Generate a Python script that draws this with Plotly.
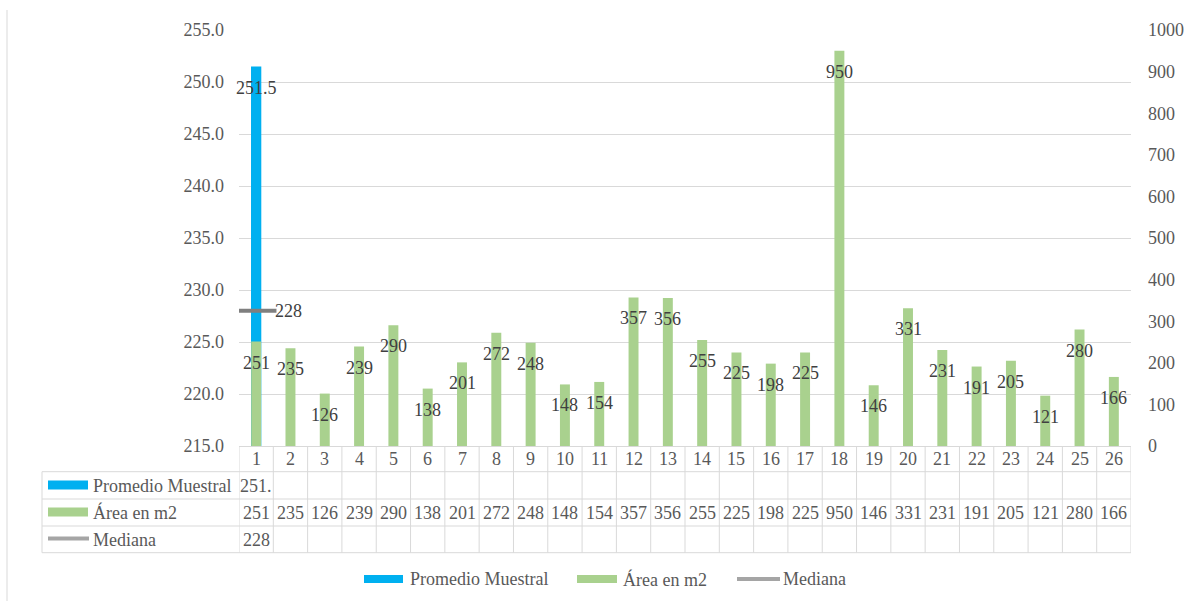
import plotly.graph_objects as go

# ---------------- data ----------------
categories = list(range(1, 27))
area_m2 = [251, 235, 126, 239, 290, 138, 201, 272, 248, 148, 154, 357, 356,
           255, 225, 198, 225, 950, 146, 331, 231, 191, 205, 121, 280, 166]
promedio_cat = [1]
promedio_val = [251.5]
mediana_cat = [1]
mediana_val = [228]
series_names = ["Promedio Muestral", "Área en m2", "Mediana"]

# ---------------- style ----------------
W, H = 1185, 601
L, R, T, B = 239, 1131, 30, 446
FONT = "'Liberation Serif', 'Times New Roman', Times, 'DejaVu Serif', serif"
BLUE = "#00B0F0"
GREEN = "#A9D18E"
GRAY_LINE = "#A5A5A5"
GRAY_MARK = "#7F7F7F"
GRID = "#D9D9D9"
TXT = "#595959"
LBL = "#404040"
FS = 18


def px_x(px):
    return (px - L) / (R - L)


def px_y(py):
    return (B - py) / (B - T)


fig = go.Figure()

fig.add_trace(go.Bar(x=promedio_cat, y=promedio_val, width=0.3, marker_color=BLUE,
                     marker_line_width=0, yaxis="y", showlegend=False, name=series_names[0]))
fig.add_trace(go.Scatter(x=mediana_cat, y=mediana_val, mode="markers", yaxis="y",
                         marker=dict(symbol="line-ew", size=29,
                                     line=dict(width=4, color=GRAY_MARK)),
                         showlegend=False, name=series_names[2]))
fig.add_trace(go.Bar(x=categories, y=area_m2, width=0.29, marker_color=GREEN,
                     marker_line_width=0, yaxis="y2", showlegend=False, name=series_names[1]))

annotations = []
shapes = []

# data labels
for c, v in zip(categories, area_m2):
    annotations.append(dict(x=c, y=v, xref="x", yref="y2", text=str(v), showarrow=False,
                            xanchor="center", yanchor="middle", yshift=-21,
                            font=dict(family=FONT, size=FS, color=LBL)))
for c, v in zip(promedio_cat, promedio_val):
    annotations.append(dict(x=c, y=v, xref="x", yref="y", text=f"{v:.1f}", showarrow=False,
                            xanchor="center", yanchor="middle", yshift=-22,
                            font=dict(family=FONT, size=FS, color=LBL)))
for c, v in zip(mediana_cat, mediana_val):
    annotations.append(dict(x=c, y=v, xref="x", yref="y", text=str(v), showarrow=False,
                            xanchor="left", yanchor="middle", xshift=17,
                            font=dict(family=FONT, size=FS, color=LBL)))

# ---------------- data table ----------------
row_lines = [px_y(471.7), px_y(499), px_y(526), px_y(552.7)]
header_c = px_y(459)
row_c = [px_y(485.5), px_y(512.5), px_y(539.5)]
left_x = px_x(42)


def cell(x, y, text, xref="x", xanchor="center"):
    return dict(x=x, y=y, xref=xref, yref="paper", text=text, showarrow=False,
                xanchor=xanchor, yanchor="middle",
                font=dict(family=FONT, size=FS, color=TXT))


for c in categories:
    annotations.append(cell(c, header_c, str(c)))
for c, v in zip(promedio_cat, promedio_val):
    annotations.append(cell(c, row_c[0], f"{v:.1f}"[:4]))
for c, v in zip(categories, area_m2):
    annotations.append(cell(c, row_c[1], str(v)))
for c, v in zip(mediana_cat, mediana_val):
    annotations.append(cell(c, row_c[2], str(v)))

# row names and keys
for name, yc in zip(series_names, row_c):
    annotations.append(cell(px_x(91), yc, name, xref="paper", xanchor="left"))
shapes.append(dict(type="rect", xref="paper", yref="paper", x0=px_x(48), x1=px_x(88),
                   y0=px_y(480.5), y1=px_y(489.5), fillcolor=BLUE, line_width=0))
shapes.append(dict(type="rect", xref="paper", yref="paper", x0=px_x(48), x1=px_x(88),
                   y0=px_y(507.5), y1=px_y(516.5), fillcolor=GREEN, line_width=0))
shapes.append(dict(type="line", xref="paper", yref="paper", x0=px_x(48), x1=px_x(89),
                   y0=px_y(538.5), y1=px_y(538.5), line=dict(color=GRAY_LINE, width=4)))

# table grid lines
for yl in row_lines:
    shapes.append(dict(type="line", xref="paper", yref="paper", x0=left_x, x1=1,
                       y0=yl, y1=yl, line=dict(color=GRID, width=1)))
shapes.append(dict(type="line", xref="paper", yref="paper", x0=left_x, x1=left_x,
                   y0=row_lines[0], y1=row_lines[-1], line=dict(color=GRID, width=1)))
for k in range(len(categories) + 1):
    xb = categories[0] - 0.5 + k
    shapes.append(dict(type="line", xref="x", yref="paper", x0=xb, x1=xb,
                       y0=0, y1=row_lines[-1], line=dict(color=GRID, width=1)))

# ---------------- bottom legend ----------------
leg_y = px_y(579)
shapes.append(dict(type="rect", xref="paper", yref="paper", x0=px_x(364), x1=px_x(403),
                   y0=px_y(575), y1=px_y(583), fillcolor=BLUE, line_width=0))
annotations.append(cell(px_x(408), leg_y, series_names[0], xref="paper", xanchor="left"))
shapes.append(dict(type="rect", xref="paper", yref="paper", x0=px_x(577), x1=px_x(617),
                   y0=px_y(575), y1=px_y(583), fillcolor=GREEN, line_width=0))
annotations.append(cell(px_x(621), leg_y, series_names[1], xref="paper", xanchor="left"))
shapes.append(dict(type="line", xref="paper", yref="paper", x0=px_x(737), x1=px_x(780),
                   y0=leg_y, y1=leg_y, line=dict(color=GRAY_LINE, width=4)))
annotations.append(cell(px_x(781), leg_y, series_names[2], xref="paper", xanchor="left"))

# chart border (left edge)
shapes.append(dict(type="line", xref="paper", yref="paper", x0=px_x(7), x1=px_x(7),
                   y0=px_y(10), y1=px_y(601), line=dict(color=GRID, width=1)))

fig.update_layout(
    width=W, height=H,
    margin=dict(l=L, r=W - R, t=T, b=H - B, pad=0, autoexpand=False),
    paper_bgcolor="white", plot_bgcolor="white",
    barmode="overlay",
    showlegend=False,
    font=dict(family=FONT, size=FS, color=TXT),
    xaxis=dict(range=[0.5, 26.5], showticklabels=False, showgrid=False, zeroline=False,
               showline=True, linecolor=GRID, linewidth=1, fixedrange=True),
    yaxis=dict(range=[215, 255], dtick=5, tickformat=".1f", showgrid=True, gridcolor=GRID,
               gridwidth=1, zeroline=False, showline=False, ticklabelstandoff=14,
               tickfont=dict(family=FONT, size=FS, color=TXT)),
    yaxis2=dict(range=[0, 1000], dtick=100, overlaying="y", side="right", showgrid=False,
                zeroline=False, showline=False, ticklabelstandoff=16,
                tickfont=dict(family=FONT, size=FS, color=TXT)),
    annotations=annotations,
    shapes=shapes,
)

fig.write_html("out.html")
